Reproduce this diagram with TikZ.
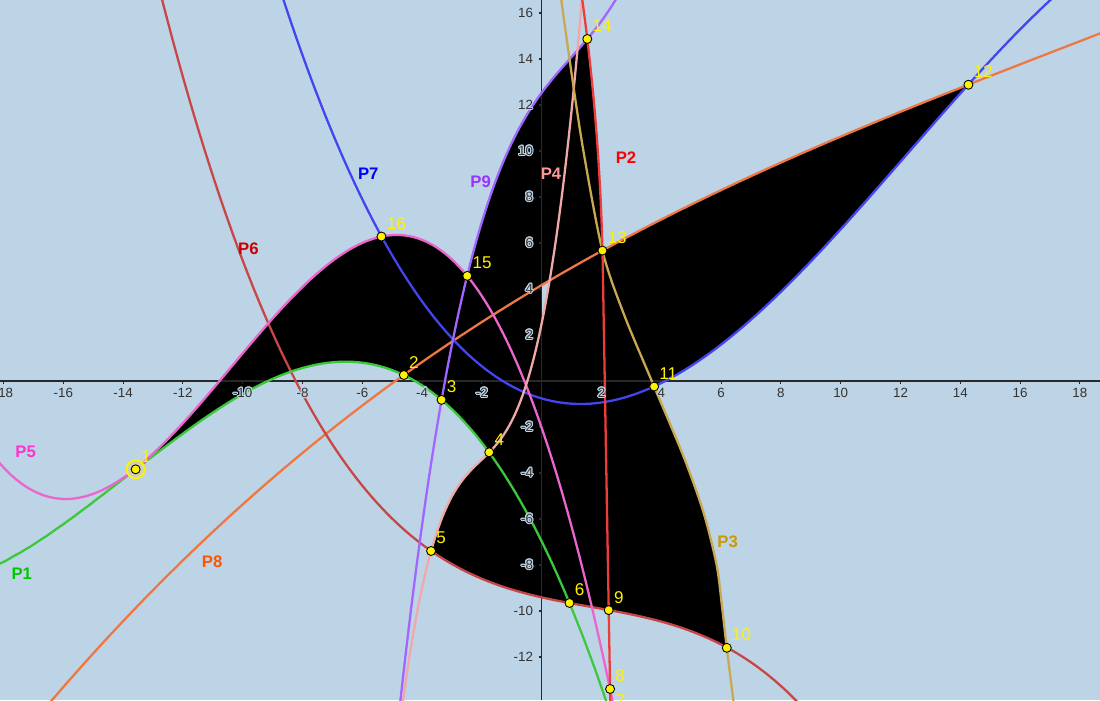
\documentclass[tikz,border=0pt]{standalone}
\usepackage{fontspec}
\setmainfont{Liberation Sans}
\usepackage{contour}
\contourlength{0.6pt}
\definecolor{bg}{RGB}{189,212,230}
\definecolor{cP1}{RGB}{60,200,60}
\definecolor{cP2}{RGB}{238,60,60}
\definecolor{cP3}{RGB}{200,168,80}
\definecolor{cP4}{RGB}{240,168,168}
\definecolor{cP5}{RGB}{236,100,204}
\definecolor{cP6}{RGB}{200,70,70}
\definecolor{cP7}{RGB}{68,68,240}
\definecolor{cP8}{RGB}{238,119,68}
\definecolor{cP9}{RGB}{160,102,255}
\definecolor{tP1}{RGB}{0,200,0}
\definecolor{tP2}{RGB}{255,0,0}
\definecolor{tP3}{RGB}{204,153,0}
\definecolor{tP4}{RGB}{255,153,153}
\definecolor{tP5}{RGB}{255,51,204}
\definecolor{tP6}{RGB}{204,0,0}
\definecolor{tP7}{RGB}{0,0,255}
\definecolor{tP8}{RGB}{255,85,0}
\definecolor{tP9}{RGB}{153,51,255}
\definecolor{axiscol}{RGB}{40,40,40}
\definecolor{ringfill}{RGB}{205,210,180}
\begin{document}
\begin{tikzpicture}[x=0.598cm,y=0.46cm,
  declare function={
    curveone(\x)=0.84+(\x+6.56)*(\x+6.56)*(-0.14123+(\x+6.56)*(-0.006359+(\x+6.56)*0.333/10000))-0.0155*(max(-13.58-\x,0))^2;
    curvetwo(\y)=2.12-0.0133*(\y+0.83)-0.00396*(max(\y-5,0))^2;
    curvefour(\x)=-3.659+(\x+2.2)*(1.2595+(\x+2.2)*(-0.2035+0.41176*(\x+2.2)));
    curvefive(\x)=6.35+(\x+4.85)*(\x+4.85)*(-0.28118-0.016933*(\x+4.85))+(max(\x+4.85,0))^2*((max(\x+4.85,0))^2*0.283)/1000;
    curvesix(\x)=-9.67+(\x-1)*(-0.24+(\x-1)*(0.01563-0.007804*(\x-1)));
    curveseven(\x)=-1+(\x-1.3)*(\x-1.3)*(0.1366-0.004166*(\x-1.3));
    curveeight(\x)=4.17+\x*(0.77+\x*(-0.01539+\x*0.2974/1000));
    curvenine(\x)=10.358+(\x+1)*(2.702+(\x+1)*(-0.6289+0.10552*(\x+1)));
  },
  crv/.style={line width=1.3pt, line join=round},
  axisline/.style={draw=axiscol, line width=0.6pt},
  ticklab/.style={font=\fontsize{7.6}{8}\selectfont, text=black!80, inner sep=0pt},
  pt/.style={circle, fill=yellow, draw=black, line width=0.5pt, inner sep=0pt, minimum size=0.18cm},
  plab/.style={anchor=base west, text=yellow, inner sep=0pt, font=\fontsize{9.7}{10}\selectfont, xshift=0.1cm, yshift=0.14cm},
  clab/.style={font=\bfseries\fontsize{9.5}{10}\selectfont, inner sep=0pt}]
\useasboundingbox (-18.117,-13.870) rectangle (18.672,16.565);
\fill[bg] (-18.117,-13.870) rectangle (18.672,16.565);

% black region
\fill[black]
  plot[domain=-13.58:-2.49, samples=90] (\x,{curvefive(\x)})
  -- plot[domain=-2.49:1.525, samples=80] (\x,{curvenine(\x)})
  -- plot[domain=14.87:5.67, samples=50] ({curvetwo(\x)},\x)
  -- plot[domain=2.03:14.27, samples=70] (\x,{curveeight(\x)})
  -- plot[domain=14.27:3.76, samples=70] (\x,{curveseven(\x)})
  -- plot[smooth] coordinates {(3.76,-0.24) (4.75,-3.3) (5.42,-5.75) (5.85,-8.0) (6.03,-9.8) (6.19,-11.61)}
  -- plot[domain=6.19:-3.70, samples=70] (\x,{curvesix(\x)})
  -- plot[domain=-3.70:-1.755, samples=50] (\x,{curvefour(\x)})
  -- plot[domain=-1.755:-13.58, samples=90] (\x,{curveone(\x)})
  -- cycle;
\fill[bg] (0,4.17) -- (0.266,4.37) -- plot[domain=0.266:0, samples=10] (\x,{curvefour(\x)}) -- cycle;

% axes
\draw[axisline] (-18.117,0) -- (18.672,0);
\draw[axisline] (0,-13.870) -- (0,16.565);
\foreach \v in {-18,-16,...,-2,2,4,...,18} \draw[axisline] (\v,0) -- ++(0,-0.06cm);
\foreach \v in {-12,-10,...,-2,2,4,...,16} \draw[axisline] (0,\v) -- ++(-0.06cm,0);

% curves
\draw[crv, cP8] plot[domain=-16.6:18.8, samples=120] (\x,{curveeight(\x)});
\draw[crv, cP7] plot[domain=-8.9:17.3, samples=120] (\x,{curveseven(\x)});
\draw[crv, cP6] plot[domain=-12.9:8.7, samples=120] (\x,{curvesix(\x)});
\draw[crv, cP1] plot[domain=-18.3:2.4, samples=120] (\x,{curveone(\x)});
\draw[crv, cP5] plot[domain=-18.3:2.45, samples=140] (\x,{curvefive(\x)});
\draw[crv, cP9] plot[domain=-4.78:2.65, samples=150] (\x,{curvenine(\x)});
\draw[crv, cP4] plot[domain=-4.68:1.38, samples=160] (\x,{curvefour(\x)});
\draw[crv, cP3] plot[smooth] coordinates {(0.62,16.9) (0.95,13.81) (1.39,10.04) (2.03,5.67) (2.75,2.9) (3.76,-0.24) (4.75,-3.3) (5.42,-5.75) (5.85,-8.0) (6.03,-9.8) (6.19,-11.61) (6.43,-14.1)};
\draw[crv, cP2] plot[domain=-14.9:16.8, samples=120] ({curvetwo(\x)},\x);

% tick labels
\foreach \v [count=\i] in {-18,-16,...,-2,2,4,...,18}
  \node[ticklab, anchor=north, yshift=-0.13cm] (tx\i) at (\v,0) {\contour{bg}{\v}};
\foreach \v [count=\i] in {-12,-10,...,-2,2,4,...,16}
  \node[ticklab, anchor=east, xshift=-0.168cm] (ty\i) at (0,\v) {\contour{bg}{\v}};

% curve labels
\node[clab, text=tP1] (lP1) at (-17.39,-8.39) {P1};
\node[clab, text=tP5] (lP5) at (-17.26,-3.10) {P5};
\node[clab, text=tP8] (lP8) at (-11.02,-7.84) {P8};
\node[clab, text=tP6] (lP6) at (-9.81,5.77) {P6};
\node[clab, text=tP7] (lP7) at (-5.80,9.0) {P7};
\node[clab, text=tP9] (lP9) at (-2.04,8.67) {P9};
\node[clab, text=tP4] (lP4) at (0.31,9.0) {P4};
\node[clab, text=tP2] (lP2) at (2.82,9.73) {P2};
\node[clab, text=tP3] (lP3) at (6.22,-6.99) {P3};

% points
\node[circle, draw=yellow, line width=1.1pt, fill=ringfill, inner sep=0pt, minimum size=0.36cm] (ring1) at (-13.58,-3.84) {};
\node[pt] (p1) at (-13.58,-3.84) {};
\node[pt] (p2) at (-4.61,0.26) {};
\node[pt] (p3) at (-3.35,-0.82) {};
\node[pt] (p4) at (-1.755,-3.10) {};
\node[pt] (p5) at (-3.70,-7.39) {};
\node[pt] (p6) at (0.93,-9.65) {};
\node[pt] (p7) at (2.30,-14.47) {};
\node[pt] (p8) at (2.287,-13.39) {};
\node[pt] (p9) at (2.241,-9.96) {};
\node[pt] (p10) at (6.19,-11.60) {};
\node[pt] (p11) at (3.76,-0.24) {};
\node[pt] (p12) at (14.27,12.88) {};
\node[pt] (p13) at (2.03,5.67) {};
\node[pt] (p14) at (1.525,14.87) {};
\node[pt] (p15) at (-2.49,4.57) {};
\node[pt] (p16) at (-5.36,6.28) {};
\foreach \k in {1,...,16} \node[plab] (lab\k) at (p\k) {\k};
\end{tikzpicture}
\end{document}
